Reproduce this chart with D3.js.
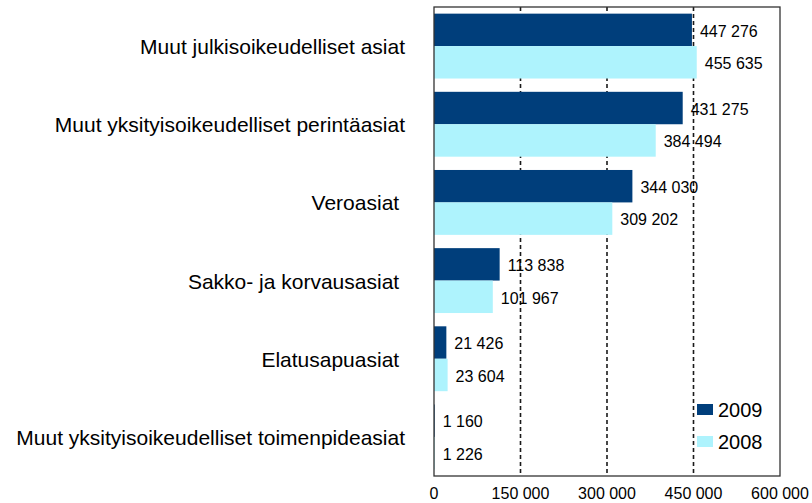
<!DOCTYPE html>
<html>
<head>
<meta charset="utf-8">
<script src="https://cdn.jsdelivr.net/npm/d3@7"></script>
<style>
  body { margin: 0; background: #fff; }
  text { font-family: "Liberation Sans", Arial, sans-serif; fill: #000; }
  .cat-label { font-size: 21px; white-space: pre; }
  .value-label { font-size: 16px; }
  .tick-label { font-size: 16px; }
  .legend-label { font-size: 20px; }
</style>
</head>
<body>
<div id="chart"></div>
<script>
// data
const categories = [
  "Muut julkisoikeudelliset asiat",
  "Muut yksityisoikeudelliset perintäasiat",
  "Veroasiat ",
  "Sakko- ja korvausasiat ",
  "Elatusapuasiat ",
  "Muut yksityisoikeudelliset toimenpideasiat"
];
const seriesNames = ["2009", "2008"];
const values2009 = [447276, 431275, 344030, 113838, 21426, 1160];
const values2008 = [455635, 384494, 309202, 101967, 23604, 1226];
const xTicks = [0, 150000, 300000, 450000, 600000];
const gridTicks = [150000, 300000, 450000];

const colors = {"2009": "#003e7b", "2008": "#aef3fd"};

// dimensions
const width = 812, height = 503;
const plot = {left: 434, right: 780, top: 7, bottom: 476};

const svg = d3.select("#chart")
  .append("svg")
    .attr("width", width)
    .attr("height", height);

const fmt = v => d3.format(",")(v).replace(/,/g, " ");

// scales
const xScale = d3.scaleLinear()
  .domain([0, 600000])
  .range([plot.left, plot.right]);

const yScale = d3.scaleBand()
  .domain(categories)
  .range([plot.top, plot.bottom])
  .paddingInner(0.17)
  .paddingOuter(0.085);

const ySub = d3.scaleBand()
  .domain(seriesNames)
  .range([0, yScale.bandwidth()]);

// rows of data
const rows = categories.map((c, i) => ({
  cat: c,
  series: [
    {name: "2009", value: values2009[i]},
    {name: "2008", value: values2008[i]}
  ]
}));

// dashed grid lines (behind the bars)
svg.append("g")
  .selectAll("line")
  .data(gridTicks)
  .enter()
  .append("line")
    .attr("x1", d => xScale(d))
    .attr("x2", d => xScale(d))
    .attr("y1", plot.top)
    .attr("y2", plot.bottom)
    .style("stroke", "#1a1a1a")
    .style("stroke-width", 1.6)
    .style("stroke-dasharray", "4,3");

// bars
const groups = svg.append("g")
  .selectAll("g")
  .data(rows)
  .enter()
  .append("g")
    .attr("transform", d => `translate(0,${yScale(d.cat)})`);

groups.selectAll("rect")
  .data(d => d.series)
  .enter()
  .append("rect")
    .attr("x", xScale(0))
    .attr("y", d => ySub(d.name))
    .attr("width", d => xScale(d.value) - xScale(0))
    .attr("height", ySub.bandwidth())
    .style("fill", d => colors[d.name]);

// value labels
groups.selectAll("text")
  .data(d => d.series)
  .enter()
  .append("text")
    .attr("class", "value-label")
    .attr("x", d => xScale(d.value) + 8)
    .attr("y", d => ySub(d.name) + ySub.bandwidth() / 2)
    .attr("dy", "0.42em")
    .text(d => fmt(d.value));

// plot frame
svg.append("rect")
  .attr("x", plot.left)
  .attr("y", plot.top)
  .attr("width", plot.right - plot.left)
  .attr("height", plot.bottom - plot.top)
  .style("fill", "none")
  .style("stroke", "#333")
  .style("stroke-width", 1.3);

// category labels
svg.append("g")
  .selectAll("text")
  .data(categories)
  .enter()
  .append("text")
    .attr("class", "cat-label")
    .attr("x", 405)
    .attr("y", d => yScale(d) + yScale.bandwidth() / 2)
    .attr("dy", "0.38em")
    .attr("text-anchor", "end")
    .text(d => d);

// x axis tick labels
svg.append("g")
  .selectAll("text")
  .data(xTicks)
  .enter()
  .append("text")
    .attr("class", "tick-label")
    .attr("x", d => xScale(d))
    .attr("y", 493)
    .attr("dy", "0.36em")
    .attr("text-anchor", "middle")
    .text(d => fmt(d));

// legend
const legend = svg.append("g")
  .selectAll("g")
  .data(seriesNames)
  .enter()
  .append("g")
    .attr("transform", (d, i) => `translate(697,${404 + i * 32})`);

legend.append("rect")
  .attr("width", 16)
  .attr("height", 11)
  .style("fill", d => colors[d]);

legend.append("text")
  .attr("class", "legend-label")
  .attr("x", 21)
  .attr("y", 6)
  .attr("dy", "0.36em")
  .text(d => d);
</script>
</body>
</html>
